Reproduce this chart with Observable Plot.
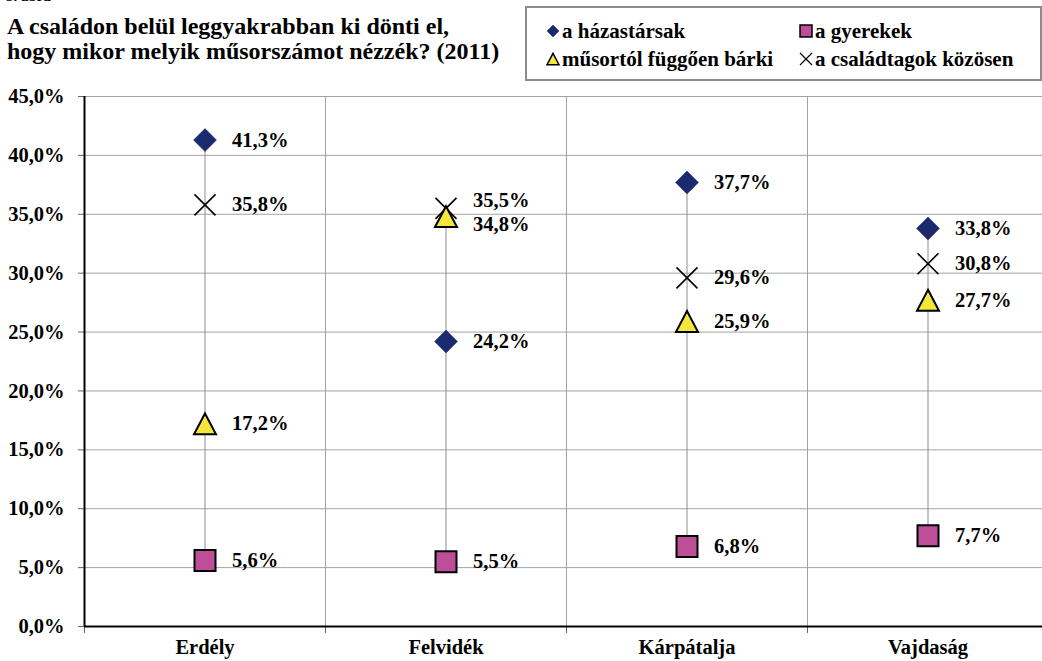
<!DOCTYPE html>
<html>
<head>
<meta charset="utf-8">
<script src="https://cdn.jsdelivr.net/npm/d3@7"></script>
<script src="https://cdn.jsdelivr.net/npm/@observablehq/plot@0.6"></script>
<style>
  html, body { margin: 0; padding: 0; background: #fff; }
  body { width: 1042px; height: 661px; position: relative; overflow: hidden; font-family: "Liberation Serif", "Times New Roman", serif; }
  #fig { position: absolute; left: 6px; top: -12px; font-size: 15px; font-weight: bold; }
  #title { position: absolute; left: 7px; top: 14px; font-size: 24px; font-weight: bold; line-height: 25px; white-space: nowrap; }
  #legend { position: absolute; left: 525px; top: 6px; width: 513px; height: 71px; border: 2px solid #8c8c8c; box-sizing: content-box; }
  .li { position: absolute; font-size: 21px; font-weight: bold; white-space: nowrap; display: flex; align-items: center; height: 26px; }
  .li svg { margin-right: 2px; }
  #chart { position: absolute; left: 0; top: 0; }
</style>
</head>
<body>
<div id="chart"></div>
<div id="fig">3. ábra</div>
<div id="title"><span id="t1">A családon belül leggyakrabban ki dönti el,</span><br><span id="t2">hogy mikor melyik műsorszámot nézzék? (2011)</span></div>
<div id="legend"></div>
<script>
// ---- data ----
const categories = ["Erdély", "Felvidék", "Kárpátalja", "Vajdaság"];
const seriesNames = ["a házastársak", "a gyerekek", "műsortól függően bárki", "a családtagok közösen"];
const hazastarsak = [41.3, 24.2, 37.7, 33.8];
const gyerekek = [5.6, 5.5, 6.8, 7.7];
const musortol = [17.2, 34.8, 25.9, 27.7];
const kozosen = [35.8, 35.5, 29.6, 30.8];
const yTicks = [0, 5, 10, 15, 20, 25, 30, 35, 40, 45];

// ---- symbols (size = full width squared) ----
const symDiamond = {draw(c, size) { const s = Math.sqrt(size) / 2; c.moveTo(0, -s); c.lineTo(s, 0); c.lineTo(0, s); c.lineTo(-s, 0); c.closePath(); }};
const symSquare = {draw(c, size) { const s = Math.sqrt(size) / 2; c.rect(-s, -s, 2 * s, 2 * s); }};
const symTriangle = {draw(c, size) { const s = Math.sqrt(size) / 2; const h = s * 0.95; c.moveTo(0, -h); c.lineTo(s, h); c.lineTo(-s, h); c.closePath(); }};
const symX = {draw(c, size) { const s = Math.sqrt(size) / 2; c.moveTo(-s, -s); c.lineTo(s, s); c.moveTo(s, -s); c.lineTo(-s, s); }};
const R = w => w / Math.sqrt(Math.PI);

const styles = [
  {values: hazastarsak, symbol: symDiamond, fill: "#1b2a6e", stroke: "#1b2a6e", strokeWidth: 0.5, w: 23},
  {values: gyerekek, symbol: symSquare, fill: "#bd4f98", stroke: "#000", strokeWidth: 2, w: 21},
  {values: kozosen, symbol: symX, fill: "none", stroke: "#000", strokeWidth: 1.6, w: 21},
  {values: musortol, symbol: symTriangle, fill: "#f5e63c", stroke: "#000", strokeWidth: 2, w: 22}
];

// ---- table ----
const rows = [];
[hazastarsak, gyerekek, musortol, kozosen].forEach((vals, s) => {
  vals.forEach((v, i) => rows.push({i, v, s}));
});
const ranges = categories.map((c, i) => {
  const vs = [hazastarsak[i], gyerekek[i], musortol[i], kozosen[i]];
  return {i, lo: d3.min(vs), hi: d3.max(vs)};
});

const yPx = v => 626 - v * (530 / 45);
// label collision nudging within a category
rows.forEach(r => r.dy = 0);
categories.forEach((c, i) => {
  const rs = rows.filter(r => r.i === i).sort((a, b) => b.v - a.v);
  for (let k = 0; k < rs.length - 1; k++) {
    const a = rs[k], b = rs[k + 1];
    const gap = yPx(b.v) - yPx(a.v);
    if (gap < 22) { const push = (24 - gap) / 2; a.dy -= push; b.dy += push; }
  }
});

const fmt = v => v.toFixed(1).replace(".", ",") + "%";

const marks = [
  Plot.ruleY(yTicks.filter(t => t > 0), {y: d => d, x1: -0.5, x2: 3.6, stroke: "#a3a3a3", strokeWidth: 1}),
  Plot.ruleX([0.5, 1.5, 2.5], {x: d => d, y1: 0, y2: 45, stroke: "#a3a3a3", strokeWidth: 1}),
  Plot.ruleX(ranges, {x: "i", y1: "lo", y2: "hi", stroke: "#8c8c8c", strokeWidth: 1}),
  Plot.axisY({ticks: yTicks, tickSize: 6, tickPadding: 14, tickFormat: fmt, fontSize: 20.5, fontWeight: "bold", label: null, stroke: "#666", color: "#000"}),
  Plot.axisX({ticks: [-0.5, 0.5, 1.5, 2.5], tickSize: 7, tickFormat: () => "", label: null, stroke: "#666"}),
  Plot.axisX({ticks: [0, 1, 2, 3], tickSize: 0, tickPadding: 13, tickFormat: i => categories[i], fontSize: 20.5, fontWeight: "bold", label: null, color: "#000"}),
  Plot.ruleX([-0.5], {x: d => d, y1: 0, y2: 45, stroke: "#000", strokeWidth: 2}),
  Plot.ruleY([0], {y: d => d, x1: -0.5, x2: 3.6, stroke: "#000", strokeWidth: 2})
];
styles.forEach(st => {
  const data = st.values.map((v, i) => ({i, v}));
  marks.push(Plot.dot(data, {x: "i", y: "v", symbol: () => st.symbol, r: R(st.w), fill: st.fill, stroke: st.stroke, strokeWidth: st.strokeWidth, strokeLinejoin: "miter"}));
});
marks.push(Plot.text(rows, {x: "i", y: "v", text: d => fmt(d.v), dx: 27, textAnchor: "start", fontSize: 20.5, fontWeight: "bold", fill: "#000"}));

const plot = Plot.plot({
  width: 1042,
  height: 661,
  marginTop: 96,
  marginBottom: 35,
  marginLeft: 84,
  marginRight: 0,
  style: {fontFamily: "'Liberation Serif', 'Times New Roman', serif", background: "#fff", overflow: "hidden"},
  x: {type: "linear", domain: [-0.5, 3.5], range: [84, 1048]},
  y: {domain: [0, 45], range: [626, 96]},
  marks
});
// nudge the collided labels
const texts = plot.querySelectorAll("g[aria-label='text'] text");
texts.forEach((t, k) => {
  const r = rows[k];
  if (r && r.dy) {
    const tr = t.getAttribute("transform") || "";
    t.setAttribute("transform", tr + ` translate(0,${r.dy})`);
  }
});
document.getElementById("chart").appendChild(plot);

// ---- legend ----
const legend = document.getElementById("legend");
const legendItems = [
  {name: seriesNames[0], st: styles[0], left: 19, top: 10},
  {name: seriesNames[1], st: styles[1], left: 272, top: 10},
  {name: seriesNames[2], st: styles[3], left: 19, top: 38},
  {name: seriesNames[3], st: styles[2], left: 272, top: 38}
];
legendItems.forEach(it => {
  const div = document.createElement("div");
  div.className = "li";
  div.style.left = it.left + "px";
  div.style.top = it.top + "px";
  const w = 12;
  const path = d3.path();
  it.st.symbol.draw(path, w * w);
  const sw = it.st === styles[2] ? 1.2 : (it.st.strokeWidth > 1 ? 1.5 : 0.5);
  div.innerHTML = `<svg width="14" height="14" viewBox="-7 -7 14 14"><path d="${path.toString()}" fill="${it.st.fill}" stroke="${it.st.stroke}" stroke-width="${sw}"/></svg><span>${it.name}</span>`;
  legend.appendChild(div);
});
</script>
</body>
</html>
